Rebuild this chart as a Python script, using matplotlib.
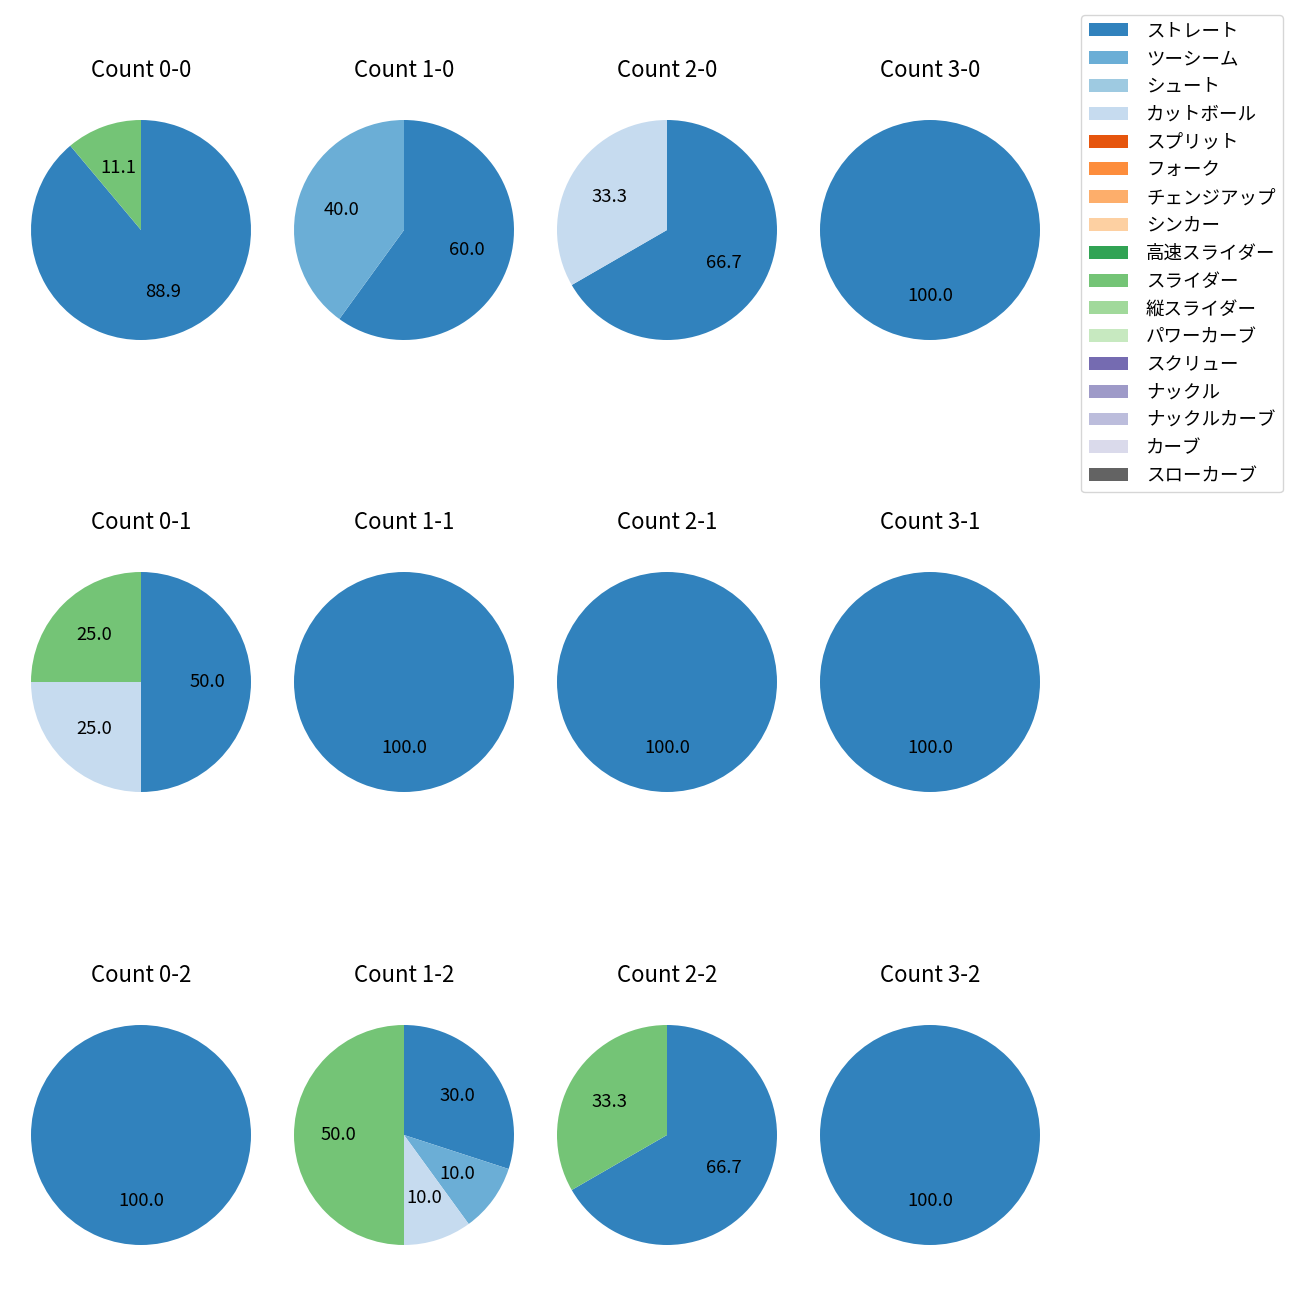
import matplotlib
matplotlib.use("Agg")
import matplotlib.pyplot as plt
from matplotlib.patches import Patch

plt.rcParams['font.family'] = ['Noto Sans CJK JP', 'DejaVu Sans']

# pitch types (legend order) and their colours
pitch_types = ['ストレート', 'ツーシーム', 'シュート', 'カットボール', 'スプリット', 'フォーク',
               'チェンジアップ', 'シンカー', '高速スライダー', 'スライダー', '縦スライダー',
               'パワーカーブ', 'スクリュー', 'ナックル', 'ナックルカーブ', 'カーブ', 'スローカーブ']
cmap = plt.get_cmap('tab20c')
colors = [cmap(i) for i in range(len(pitch_types))]

# counts per ball-strike situation: {pitch type: number of pitches}
counts = {
    '0-0': {'ストレート': 8, 'スライダー': 1},
    '1-0': {'ストレート': 3, 'ツーシーム': 2},
    '2-0': {'ストレート': 2, 'カットボール': 1},
    '3-0': {'ストレート': 1},
    '0-1': {'ストレート': 2, 'カットボール': 1, 'スライダー': 1},
    '1-1': {'ストレート': 1},
    '2-1': {'ストレート': 1},
    '3-1': {'ストレート': 1},
    '0-2': {'ストレート': 1},
    '1-2': {'ストレート': 3, 'ツーシーム': 1, 'カットボール': 1, 'スライダー': 5},
    '2-2': {'ストレート': 2, 'スライダー': 1},
    '3-2': {'ストレート': 1},
}
balls = [0, 1, 2, 3]
strikes = [0, 1, 2]

fig = plt.figure(figsize=(13, 13), dpi=100)
W = H = 1300.0
col_cx = [141, 404, 667, 930]
row_cy = [230, 682, 1135]
side = 275

for r, s in enumerate(strikes):
    for c, b in enumerate(balls):
        key = f'{b}-{s}'
        ax = fig.add_axes([(col_cx[c] - side / 2) / W, 1 - (row_cy[r] + side / 2) / H,
                           side / W, side / H])
        data = counts[key]
        vals = [data[p] for p in pitch_types if p in data]
        cols = [colors[i] for i, p in enumerate(pitch_types) if p in data]
        ax.pie(vals, colors=cols, autopct='%.1f', startangle=90, counterclock=False,
               textprops={'fontsize': 13.3})
        ax.set_title(f'Count {key}', fontsize=16, pad=11)

handles = [Patch(facecolor=colors[i], label=p) for i, p in enumerate(pitch_types)]
fig.legend(handles=handles, loc='upper right', bbox_to_anchor=(1283 / W, 1 - 15 / H),
           borderaxespad=0, fontsize=13.3, labelspacing=0.53, handlelength=2.1,
           handletextpad=1.0)

fig.savefig('out.png', dpi=100)
